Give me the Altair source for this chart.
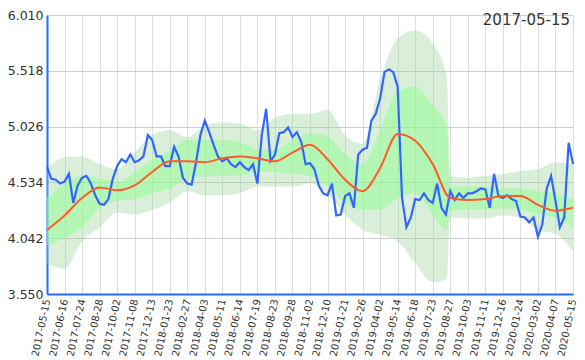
import altair as alt
import pandas as pd

date_labels = ["2017-05-15", "2017-06-16", "2017-07-24", "2017-08-28", "2017-10-02",
               "2017-11-08", "2017-12-13", "2018-01-23", "2018-02-27", "2018-04-03",
               "2018-05-11", "2018-06-14", "2018-07-19", "2018-08-23", "2018-09-28",
               "2018-11-02", "2018-12-10", "2019-01-21", "2019-02-26", "2019-04-02",
               "2019-05-14", "2019-06-18", "2019-07-23", "2019-08-27", "2019-10-03",
               "2019-11-11", "2019-12-16", "2020-01-24", "2020-03-02", "2020-04-07",
               "2020-05-15"]
y_ticks = [3.550, 4.042, 4.534, 5.026, 5.518, 6.010]

# daily close, sampled every quarter of a label interval
price = [4.669, 4.566, 4.558, 4.524, 4.541, 4.609, 4.353, 4.507, 4.575, 4.592,
         4.524, 4.421, 4.345, 4.336, 4.387, 4.566, 4.678, 4.738, 4.712, 4.780,
         4.712, 4.729, 4.763, 4.951, 4.908, 4.763, 4.763, 4.678, 4.678, 4.848,
         4.763, 4.575, 4.524, 4.515, 4.712, 4.951, 5.079, 4.977, 4.865, 4.763,
         4.720, 4.746, 4.695, 4.669, 4.712, 4.669, 4.643, 4.695, 4.524, 4.951,
         5.181, 4.720, 4.780, 4.968, 4.977, 5.019, 4.934, 4.977, 4.891, 4.695,
         4.703, 4.652, 4.507, 4.438, 4.421, 4.524, 4.242, 4.250, 4.413, 4.438,
         4.310, 4.780, 4.823, 4.840, 5.079, 5.139, 5.275, 5.506, 5.532, 5.506,
         5.378, 4.396, 4.139, 4.225, 4.387, 4.379, 4.438, 4.379, 4.353, 4.524,
         4.310, 4.250, 4.456, 4.379, 4.438, 4.396, 4.438, 4.438, 4.456, 4.481,
         4.473, 4.310, 4.609, 4.413, 4.396, 4.421, 4.387, 4.370, 4.233, 4.225,
         4.182, 4.225, 4.054, 4.165, 4.481, 4.592, 4.370, 4.139, 4.225, 4.883,
         4.695]
price_pos = [i * 0.25 for i in range(len(price))]

# moving average at each label position
ma = [4.114, 4.242, 4.396, 4.490, 4.464, 4.507, 4.626, 4.720, 4.720, 4.712,
      4.746, 4.763, 4.746, 4.720, 4.797, 4.865, 4.738, 4.558, 4.456, 4.661,
      4.960, 4.901, 4.695, 4.396, 4.379, 4.387, 4.413, 4.413, 4.336, 4.285,
      4.310]
ma_pos = list(range(len(ma)))

band_pos = sorted(list(range(31)) + [22.8])
outer_hi = [4.652, 4.755, 4.763, 4.695, 4.652, 4.797, 4.951, 4.994, 4.934, 5.036,
            5.062, 5.053, 4.994, 5.105, 5.139, 5.139, 5.173, 4.951, 4.874, 5.438,
            5.805, 5.873, 5.762, 5.463, 4.592, 4.575, 4.592, 4.609, 4.635, 4.652,
            4.712, 4.695]
outer_lo = [3.815, 3.772, 4.012, 4.139, 4.267, 4.250, 4.293, 4.353, 4.456, 4.421,
            4.421, 4.438, 4.498, 4.498, 4.498, 4.524, 4.438, 4.250, 4.114, 4.071,
            4.012, 3.823, 3.653, 3.687, 4.225, 4.216, 4.216, 4.242, 4.225, 4.114,
            4.080, 3.926]
inner_hi = [4.396, 4.524, 4.592, 4.566, 4.541, 4.626, 4.738, 4.806, 4.908, 4.908,
            4.908, 4.891, 4.823, 4.823, 4.908, 4.968, 4.942, 4.780, 4.695, 4.994,
            5.335, 5.378, 5.207, 5.036, 4.498, 4.498, 4.498, 4.481, 4.481, 4.456,
            4.438, 4.396]
inner_lo = [3.977, 4.045, 4.139, 4.310, 4.370, 4.387, 4.438, 4.481, 4.566, 4.584,
            4.592, 4.592, 4.635, 4.626, 4.609, 4.592, 4.498, 4.353, 4.293, 4.293,
            4.396, 4.438, 4.250, 4.114, 4.285, 4.293, 4.293, 4.302, 4.293, 4.250,
            4.225, 4.139]

price_df = pd.DataFrame({"pos": price_pos, "v": price})
ma_df = pd.DataFrame({"pos": ma_pos, "v": ma})
band_df = pd.DataFrame({"pos": band_pos, "ohi": outer_hi, "olo": outer_lo,
                        "ihi": inner_hi, "ilo": inner_lo})

label_expr = "[" + ",".join("'%s'" % d for d in date_labels) + "][datum.value]"

xscale = alt.Scale(domain=[0, 30], nice=False, zero=False)
yscale = alt.Scale(domain=[3.55, 6.01], nice=False, zero=False)
blue_axis = "#1E6EFF"

xaxis = alt.Axis(values=list(range(31)), labelExpr=label_expr, labelAngle=-78,
                 labelAlign="right", labelBaseline="middle", labelFontSize=10,
                 labelPadding=5, labelFont="DejaVu Sans", labelColor="#333",
                 ticks=False, grid=True, gridColor="#dedede", domainColor=blue_axis,
                 domainWidth=2, title=None, labelOverlap=False)
yaxis = alt.Axis(values=y_ticks, format=".3f", labelFontSize=12.5, labelPadding=4,
                 labelFont="DejaVu Sans", labelColor="#333", ticks=False, grid=True,
                 gridColor="#cfcfcf", domainColor=blue_axis, domainWidth=2,
                 title=None)

X = lambda f: alt.X(f, scale=xscale, axis=xaxis)
Y = lambda f: alt.Y(f, scale=yscale, axis=yaxis)

outer = alt.Chart(band_df).mark_area(color="#9fd89f", opacity=0.4,
                                     interpolate="monotone").encode(
    x=X("pos:Q"), y=Y("olo:Q"), y2="ohi:Q")
inner = alt.Chart(band_df).mark_area(color="#90ff90", opacity=0.5,
                                     interpolate="monotone").encode(
    x=X("pos:Q"), y=Y("ilo:Q"), y2="ihi:Q")
blue = alt.Chart(price_df).mark_line(color="#3366FF", strokeWidth=2.2).encode(
    x=X("pos:Q"), y=Y("v:Q"))
orange = alt.Chart(ma_df).mark_line(color="#FF5B2B", strokeWidth=2,
                                    interpolate="monotone").encode(
    x=X("pos:Q"), y=Y("v:Q"))
text = alt.Chart(pd.DataFrame({"t": [date_labels[0]]})).mark_text(
    align="right", baseline="middle", fontSize=15, font="DejaVu Sans",
    color="#333").encode(text="t:N", x=alt.value(523), y=alt.value(5))

chart = alt.layer(outer, inner, blue, orange, text).properties(
    width=526, height=279,
    padding={"left": 39, "top": 7, "right": 4, "bottom": 65},
    autosize=alt.AutoSizeParams(type="none"),
).configure_view(stroke=None)

chart.save("out.html", embed_options={"renderer": "svg", "actions": False})
